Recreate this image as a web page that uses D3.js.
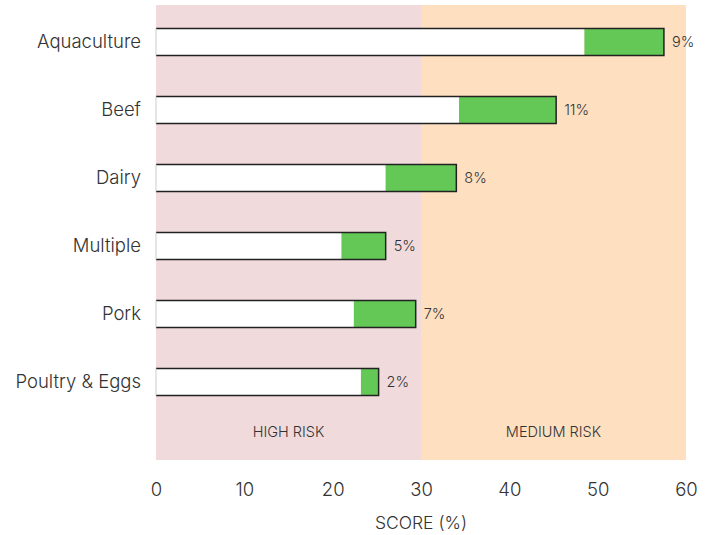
<!DOCTYPE html>
<html>
<head>
<meta charset="utf-8">
<script src="https://cdn.jsdelivr.net/npm/d3@7"></script>
<style>
  body { margin: 0; background: #fff; }
  text { font-family: Inter, "Open Sans", sans-serif; fill: #333; }
</style>
</head>
<body>
<svg id="chart" width="713" height="535"></svg>
<script>
// Sector scores: baseline score plus the gain (in points) shown in green
const categories = ["Aquaculture", "Beef", "Dairy", "Multiple", "Pork", "Poultry & Eggs"];
const baseScores = [48.5, 34.3, 26.0, 21.0, 22.4, 23.2];
const gains = [9, 11, 8, 5, 7, 2];
const xTicks = [0, 10, 20, 30, 40, 50, 60];
const riskZones = [
  { label: "HIGH RISK", from: 0, to: 30, color: "#f0dadb" },
  { label: "MEDIUM RISK", from: 30, to: 60, color: "#fedfc0" }
];

const svg = d3.select("#chart");
const x = d3.scaleLinear().domain([0, 60]).range([156, 686]);
const y = d3.scaleBand().domain(categories).range([8, 416]).paddingInner(0.6).paddingOuter(0.3);
const plotTop = 5, plotBottom = 460;

// Risk bands
svg.selectAll("rect.zone").data(riskZones).join("rect")
  .attr("class", "zone")
  .attr("x", d => x(d.from)).attr("width", d => x(d.to) - x(d.from))
  .attr("y", plotTop).attr("height", plotBottom - plotTop)
  .attr("fill", d => d.color);

svg.selectAll("text.zone").data(riskZones).join("text")
  .attr("class", "zone")
  .attr("x", d => (x(d.from) + x(d.to)) / 2).attr("y", 437)
  .attr("text-anchor", "middle").attr("font-size", 14.5).attr("font-weight", 300)
  .text(d => d.label);

const rows = categories.map((c, i) => ({ c, base: baseScores[i], gain: gains[i] }));

// White baseline segment
svg.selectAll("rect.base").data(rows).join("rect")
  .attr("class", "base")
  .attr("x", x(0)).attr("y", d => y(d.c))
  .attr("width", d => x(d.base) - x(0)).attr("height", y.bandwidth())
  .attr("fill", "#fff");

// Green gain segment
svg.selectAll("rect.gain").data(rows).join("rect")
  .attr("class", "gain")
  .attr("x", d => x(d.base)).attr("y", d => y(d.c))
  .attr("width", d => x(d.base + d.gain) - x(d.base)).attr("height", y.bandwidth())
  .attr("fill", "#64c856");

// Outline (top, right, bottom)
svg.selectAll("path.outline").data(rows).join("path")
  .attr("class", "outline")
  .attr("d", d => {
    const x0 = x(0), x1 = x(d.base + d.gain), y0 = y(d.c), y1 = y(d.c) + y.bandwidth();
    return `M${x0},${y0}H${x1}V${y1}H${x0}`;
  })
  .attr("fill", "none").attr("stroke", "#222").attr("stroke-width", 1.5);

svg.selectAll("path.left").data(rows).join("path")
  .attr("class", "left")
  .attr("d", d => `M${x(0)},${y(d.c)}V${y(d.c) + y.bandwidth()}`)
  .attr("stroke", "#ccc").attr("stroke-width", 1);

// Gain labels
svg.selectAll("text.val").data(rows).join("text")
  .attr("class", "val")
  .attr("x", d => x(d.base + d.gain) + 8).attr("y", d => y(d.c) + y.bandwidth() / 2)
  .attr("dy", "0.35em").attr("font-size", 14.5).attr("font-weight", 300)
  .text(d => d.gain + "%");

// Category labels
const yAxis = svg.append("g").attr("transform", `translate(${x(0) - 15},0)`)
  .call(d3.axisLeft(y).tickSize(0).tickPadding(0));
yAxis.select(".domain").remove();
yAxis.selectAll("text").attr("font-size", 18.5).attr("font-weight", 300)
  .style("font-family", "Inter, 'Open Sans', sans-serif").attr("fill", "#333");

// X axis
const xAxis = svg.append("g").attr("transform", `translate(0,${plotBottom})`)
  .call(d3.axisBottom(x).tickValues(xTicks).tickSize(0).tickPadding(23));
xAxis.select(".domain").remove();
xAxis.selectAll("text").attr("font-size", 18.5).attr("font-weight", 300)
  .style("font-family", "Inter, 'Open Sans', sans-serif").attr("fill", "#333");

svg.append("text")
  .attr("x", (x(0) + x(60)) / 2).attr("y", 529)
  .attr("text-anchor", "middle").attr("font-size", 17.5).attr("font-weight", 300)
  .text("SCORE (%)");
</script>
</body>
</html>
